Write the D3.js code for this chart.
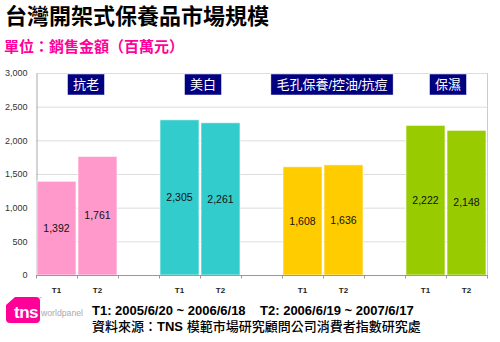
<!DOCTYPE html>
<html>
<head>
<meta charset="utf-8">
<script src="https://cdn.jsdelivr.net/npm/d3@7"></script>
<style>
  html, body { margin: 0; padding: 0; background: #fff; }
  svg { display: block; }
  text { font-family: "Liberation Sans", Arial, "Noto Sans CJK TC", sans-serif; }
  .cjk { font-family: "Liberation Sans", "Noto Sans CJK TC", sans-serif; }
</style>
</head>
<body>
<svg id="chart" width="500" height="342"></svg>
<script>
// Market size of drugstore skincare in Taiwan, by segment and period (NT$ million)
const categories = ["抗老", "美白", "毛孔保養/控油/抗痘", "保濕"];
const periods = ["T1", "T2"];
const t1Values = [1392, 2305, 1608, 2222];
const t2Values = [1761, 2261, 1636, 2148];
const barColors = ["#ff99cc", "#33cccc", "#ffcc00", "#99cc00"];
const yTicks = [0, 500, 1000, 1500, 2000, 2500, 3000];

const titleText = "台灣開架式保養品市場規模";
const unitText = "單位：銷售金額（百萬元）";
const periodNote = "T1: 2005/6/20 ~ 2006/6/18    T2: 2006/6/19 ~ 2007/6/17";
const sourceLead = "資料來源：";
const sourceBrand = "TNS ";
const sourceRest = "模範市場研究顧問公司消費者指數研究處";

const svg = d3.select("#chart");
const plot = { left: 36, right: 487, top: 73, bottom: 275 };

// slot keys: two bars per category, with an empty slot between groups
const slots = [];
categories.forEach((c, i) => {
  periods.forEach(p => slots.push(c + "|" + p));
  if (i < categories.length - 1) slots.push("gap" + i);
});

const x = d3.scaleBand().domain(slots).range([plot.left, plot.right]).padding(0);
const y = d3.scaleLinear().domain([0, 3000]).range([plot.bottom, plot.top]);

const bars = [];
categories.forEach((c, i) => {
  bars.push({ key: c + "|T1", value: t1Values[i], color: barColors[i] });
  bars.push({ key: c + "|T2", value: t2Values[i], color: barColors[i] });
});

// gridlines
svg.append("g")
  .selectAll("line")
  .data(yTicks.filter(t => t > 0))
  .join("line")
  .attr("x1", plot.left).attr("x2", plot.right)
  .attr("y1", d => y(d) + 0.5).attr("y2", d => y(d) + 0.5)
  .attr("stroke", "#dddddd").attr("stroke-width", 1);

// right frame
svg.append("line")
  .attr("x1", plot.right + 0.5).attr("x2", plot.right + 0.5)
  .attr("y1", plot.top).attr("y2", plot.bottom)
  .attr("stroke", "#cccccc");

// y axis
const yAxis = svg.append("g")
  .attr("transform", `translate(${plot.left + 0.5},0)`)
  .call(d3.axisLeft(y).tickValues(yTicks).tickSize(0).tickPadding(9).tickFormat(d3.format(",")));
yAxis.select(".domain").attr("stroke", "#aaaaaa");
yAxis.selectAll("text").attr("font-size", 9).attr("fill", "#333").attr("font-family", "Liberation Sans, Arial, sans-serif");

// bars
const barG = svg.append("g");
barG.selectAll("rect")
  .data(bars)
  .join("rect")
  .attr("x", d => x(d.key) + 1)
  .attr("width", x.bandwidth() - 2)
  .attr("y", d => y(d.value))
  .attr("height", d => y(0) - y(d.value))
  .attr("fill", d => d.color)
  .attr("stroke", "#ffffff")
  .attr("stroke-opacity", 0.6)
  .attr("stroke-width", 1);

// value labels in the middle of each bar
barG.selectAll("text")
  .data(bars)
  .join("text")
  .attr("x", d => x(d.key) + x.bandwidth() / 2)
  .attr("y", d => (y(d.value) + y(0)) / 2)
  .attr("dy", "0.35em")
  .attr("text-anchor", "middle")
  .attr("font-size", 10.5)
  .attr("fill", "#111")
  .text(d => d3.format(",")(d.value));

// x axis with tick marks at slot boundaries
const xAxisG = svg.append("g").attr("transform", `translate(0,${plot.bottom + 0.5})`);
xAxisG.append("line")
  .attr("x1", plot.left).attr("x2", plot.right + 1)
  .attr("stroke", "#999999");
xAxisG.selectAll("line.tick")
  .data(slots.concat(["end"]))
  .join("line")
  .attr("class", "tick")
  .attr("x1", (d, i) => plot.left + i * x.step() + 0.5)
  .attr("x2", (d, i) => plot.left + i * x.step() + 0.5)
  .attr("y1", 0).attr("y2", 3)
  .attr("stroke", "#999999");
xAxisG.selectAll("text")
  .data(bars)
  .join("text")
  .attr("x", d => x(d.key) + x.bandwidth() / 2)
  .attr("y", 17)
  .attr("text-anchor", "middle")
  .attr("font-size", 8)
  .attr("font-weight", "bold")
  .attr("fill", "#222")
  .text(d => d.key.split("|")[1]);

// category header tags
const headerShift = [9, 3, 9, 2];
categories.forEach((c, i) => {
  const cx = x(c + "|T2") + headerShift[i];
  const g = svg.append("g");
  const t = g.append("text")
    .attr("class", "cjk")
    .attr("x", cx)
    .attr("y", plot.top + 15.5)
    .attr("text-anchor", "middle")
    .attr("font-size", 13)
    .attr("fill", "#ffffff")
    .text(c);
  const w = t.node().getComputedTextLength() + 11;
  g.insert("rect", "text")
    .attr("x", cx - w / 2)
    .attr("y", plot.top + 1)
    .attr("width", w)
    .attr("height", 21)
    .attr("fill", "#000080")
    .attr("stroke", "#ffffff")
    .attr("stroke-width", 0.5);
});

// titles
svg.append("text")
  .attr("class", "cjk")
  .attr("x", 5).attr("y", 24)
  .attr("font-size", 22)
  .attr("font-weight", "bold")
  .attr("fill", "#000")
  .text(titleText);

svg.append("text")
  .attr("class", "cjk")
  .attr("x", 4).attr("y", 52)
  .attr("font-size", 15)
  .attr("font-weight", "bold")
  .attr("fill", "#ff0099")
  .text(unitText);

// footer notes
svg.append("text")
  .attr("x", 92).attr("y", 315)
  .attr("font-size", 13)
  .attr("font-weight", "bold")
  .attr("fill", "#000")
  .attr("xml:space", "preserve")
  .style("white-space", "pre")
  .text(periodNote);

const src = svg.append("text")
  .attr("class", "cjk")
  .attr("x", 92).attr("y", 331)
  .attr("font-size", 13)
  .attr("fill", "#000")
  .attr("xml:space", "preserve")
  .style("white-space", "pre");
src.append("tspan").attr("font-weight", 500).text(sourceLead);
src.append("tspan").attr("font-weight", "bold").text(sourceBrand);
src.append("tspan").attr("font-weight", 500).text(sourceRest);

// tns worldpanel logo
const logo = svg.append("g").attr("transform", "translate(6,297)");
logo.append("path")
  .attr("d", "M9,0 L30,0 Q34,0 34,4 L34,22 Q34,26 30,26 L4,26 Q0,26 0,22 L0,8 Z")
  .attr("fill", "#ff0099");
logo.append("text")
  .attr("x", 8).attr("y", 21)
  .attr("font-size", 17)
  .attr("font-weight", "bold")
  .attr("fill", "#ffffff")
  .attr("letter-spacing", -0.5)
  .text("tns");
logo.append("text")
  .attr("x", 33).attr("y", 1.5)
  .attr("font-size", 3)
  .attr("fill", "#ff0099")
  .text("™");
logo.append("text")
  .attr("x", 35).attr("y", 19)
  .attr("font-size", 9.5)
  .attr("fill", "#aaaaaa")
  .attr("textLength", 42)
  .attr("lengthAdjust", "spacingAndGlyphs")
  .text("worldpanel");
</script>
</body>
</html>
